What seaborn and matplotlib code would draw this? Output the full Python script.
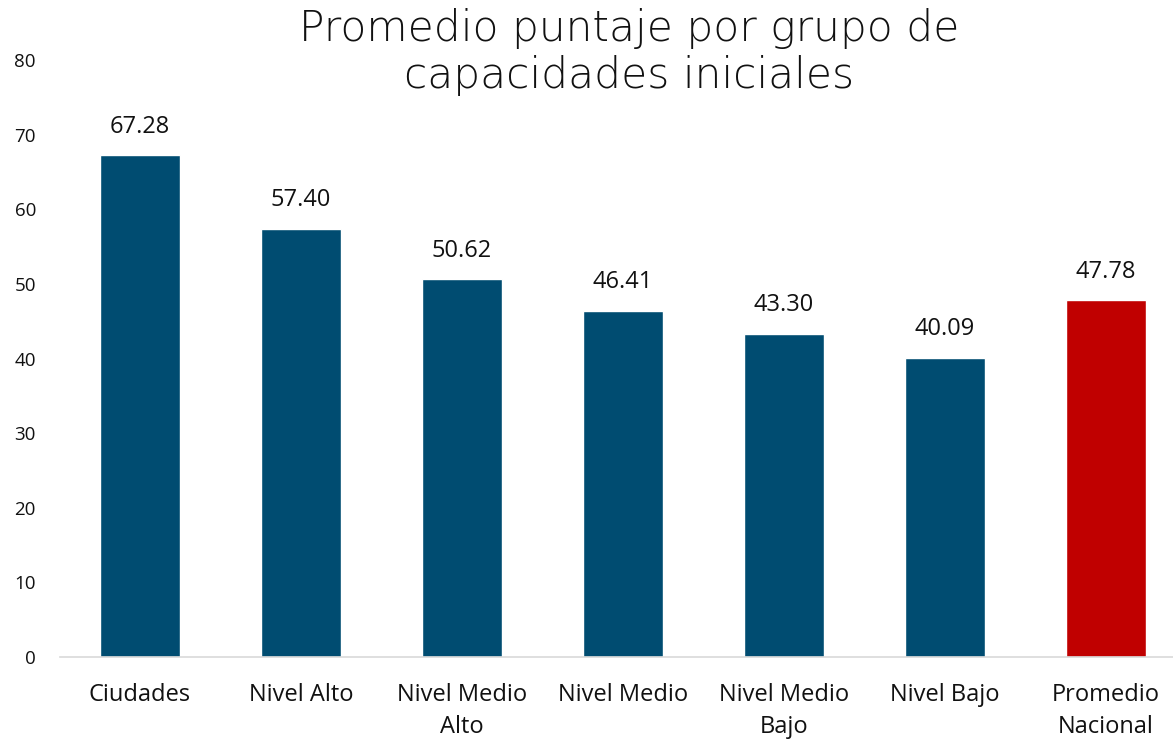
import pandas as pd
import matplotlib
matplotlib.use("Agg")
import matplotlib.pyplot as plt
import seaborn as sns

# === DATA ===
categories = ["Ciudades", "Nivel Alto", "Nivel Medio\nAlto", "Nivel Medio",
              "Nivel Medio\nBajo", "Nivel Bajo", "Promedio\nNacional"]
scores = [67.28, 57.40, 50.62, 46.41, 43.30, 40.09, 47.78]
bar_colors = ["#004C71"] * 6 + ["#C00000"]
y_ticks = [0, 10, 20, 30, 40, 50, 60, 70, 80]

sns.set_style("white")
plt.rcParams["font.family"] = ["Open Sans", "DejaVu Sans"]

df = pd.DataFrame({"grupo": categories, "puntaje": scores})

fig = plt.figure(figsize=(11.73, 7.41), dpi=100)
ax = fig.add_axes([59.5 / 1173, 84 / 741, 1127 / 1173, 597 / 741])

sns.barplot(data=df, x="grupo", y="puntaje", hue="grupo", palette=bar_colors,
            width=0.5, legend=False, ax=ax, saturation=1)

for i, v in enumerate(scores):
    ax.text(i, v + 2.2, f"{v:.2f}", ha="center", va="bottom", fontsize=17, color="#111111")

ax.set_xlim(-0.5, 6.5)
ax.set_ylim(0, 80)
ax.set_yticks(y_ticks)
ax.set_xlabel("")
ax.set_ylabel("")
ax.tick_params(axis="y", length=0, labelsize=13.5, pad=17, labelcolor="#111111")
ax.tick_params(axis="x", length=0, labelsize=17, pad=19, labelcolor="#111111")
for lbl in ax.get_xticklabels():
    lbl.set_linespacing(1.45)
for s in ["top", "right", "left"]:
    ax.spines[s].set_visible(False)
ax.spines["bottom"].set_color("#D9D9D9")
ax.spines["bottom"].set_linewidth(1.2)

fig.text(629 / 1173, 1 - 52 / 741, "Promedio puntaje por grupo de\ncapacidades iniciales",
         ha="center", va="center", fontsize=30.5, linespacing=1.2, color="#111111",
         family=["DejaVu Sans"], fontweight="light")

fig.savefig("out.png", dpi=100)
